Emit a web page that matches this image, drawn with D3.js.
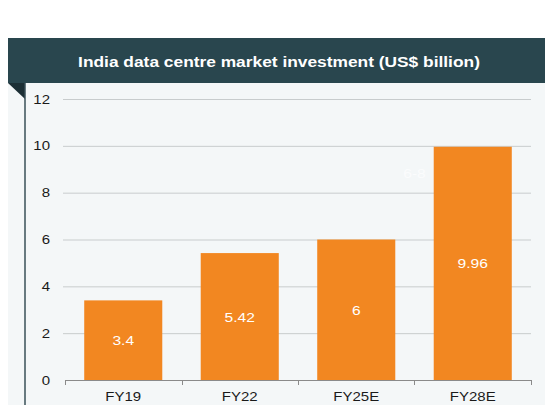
<!DOCTYPE html>
<html>
<head>
<meta charset="utf-8">
<script src="https://cdn.jsdelivr.net/npm/d3@7"></script>
<style>
  body { margin: 0; background: #ffffff; }
  text { font-family: "Liberation Sans", Arial, sans-serif; }
</style>
</head>
<body>
<script>
let width = 545;
let height = 405;

let categories = ['FY19', 'FY22', 'FY25E', 'FY28E'];
let values = [3.4, 5.42, 6, 9.96];
let yTicks = [0, 2, 4, 6, 8, 10, 12];
let title = 'India data centre market investment (US$ billion)';

// the source text is a bit wider than plain Arial
let stretch = 1.2;

function place(x, y, sx) {
    return 'translate(' + x + ',' + y + ') scale(' + sx + ',1)';
}

let svg = d3.select('body').append('svg')
            .attr('width', width)
            .attr('height', height);

// panel background
svg.append('rect')
    .attr('x', 8).attr('y', 38)
    .attr('width', width - 8).attr('height', height - 38)
    .attr('fill', '#f4f7f8');

// header bar
svg.append('rect')
    .attr('x', 8).attr('y', 38)
    .attr('width', width - 8).attr('height', 45)
    .attr('fill', '#29464e');

svg.append('text')
    .attr('transform', place(279, 67, 1.12))
    .attr('text-anchor', 'middle')
    .attr('fill', '#ffffff')
    .attr('font-size', 15.5)
    .attr('font-weight', 'bold')
    .text(title);

// corner fold + left rule
svg.append('path')
    .attr('d', 'M8,83 L25,83 L25,99 Z')
    .attr('fill', '#1c2f35');
svg.append('line')
    .attr('x1', 25).attr('x2', 25)
    .attr('y1', 83).attr('y2', height)
    .attr('stroke', '#3a5058')
    .attr('stroke-width', 1.5);

let xScale = d3.scaleBand()
                .domain(categories)
                .range([65, 531])
                .paddingInner(0.33)
                .paddingOuter(0.165);

let yScale = d3.scaleLinear()
                .domain([0, 12])
                .range([380, 99]);

// gridlines
svg.append('g')
    .selectAll('line')
    .data(yTicks.filter(function(d) { return d > 0; }))
    .enter()
    .append('line')
    .attr('x1', 63)
    .attr('x2', 531)
    .attr('y1', function(d) { return yScale(d) + 0.5; })
    .attr('y2', function(d) { return yScale(d) + 0.5; })
    .attr('stroke', '#c8cccd')
    .attr('stroke-width', 1);

// y tick labels
svg.append('g')
    .selectAll('text')
    .data(yTicks)
    .enter()
    .append('text')
    .attr('transform', function(d) { return place(50, yScale(d) + 4.5, stretch); })
    .attr('text-anchor', 'end')
    .attr('font-size', 12.5)
    .attr('fill', '#1a1a1a')
    .text(function(d) { return d; });

// bars
svg.append('g')
    .selectAll('rect')
    .data(values)
    .enter()
    .append('rect')
    .attr('x', function(d, i) { return xScale(categories[i]); })
    .attr('y', function(d) { return yScale(d); })
    .attr('width', xScale.bandwidth())
    .attr('height', function(d) { return yScale(0) - yScale(d); })
    .attr('fill', '#f28721');

// value labels
svg.append('g')
    .selectAll('text')
    .data(values)
    .enter()
    .append('text')
    .attr('transform', function(d, i) {
        return place(xScale(categories[i]) + xScale.bandwidth() / 2, (yScale(d) + yScale(0)) / 2 + 5, stretch);
    })
    .attr('text-anchor', 'middle')
    .attr('font-size', 13)
    .attr('fill', '#ffffff')
    .text(function(d) { return d; });

// faint range annotation
let gapX = xScale('FY28E') - xScale.step() * xScale.paddingInner() / 2;
svg.append('text')
    .attr('transform', place(gapX, yScale(8.85) + 5, stretch))
    .attr('text-anchor', 'middle')
    .attr('font-size', 13)
    .attr('fill', '#fbfcfd')
    .text('6-8');

// x axis
let xAxis = svg.append('g')
    .attr('transform', 'translate(0,380)');

xAxis.append('line')
    .attr('x1', 65).attr('x2', 531)
    .attr('y1', 0.5).attr('y2', 0.5)
    .attr('stroke', '#8a8a8a');

let tickPos = categories.map(function(c) { return xScale(c) - xScale.step() * xScale.paddingInner() / 2; });
tickPos[0] = 65;
tickPos.push(531);

xAxis.selectAll('.tk')
    .data(tickPos)
    .enter()
    .append('line')
    .attr('class', 'tk')
    .attr('x1', function(d) { return Math.round(d) + 0.5; })
    .attr('x2', function(d) { return Math.round(d) + 0.5; })
    .attr('y1', 0)
    .attr('y2', 5)
    .attr('stroke', '#8a8a8a');

xAxis.selectAll('.lbl')
    .data(categories)
    .enter()
    .append('text')
    .attr('class', 'lbl')
    .attr('transform', function(d) { return place(xScale(d) + xScale.bandwidth() / 2, 21, stretch); })
    .attr('text-anchor', 'middle')
    .attr('font-size', 12.5)
    .attr('fill', '#1a1a1a')
    .text(function(d) { return d; });
</script>
</body>
</html>
